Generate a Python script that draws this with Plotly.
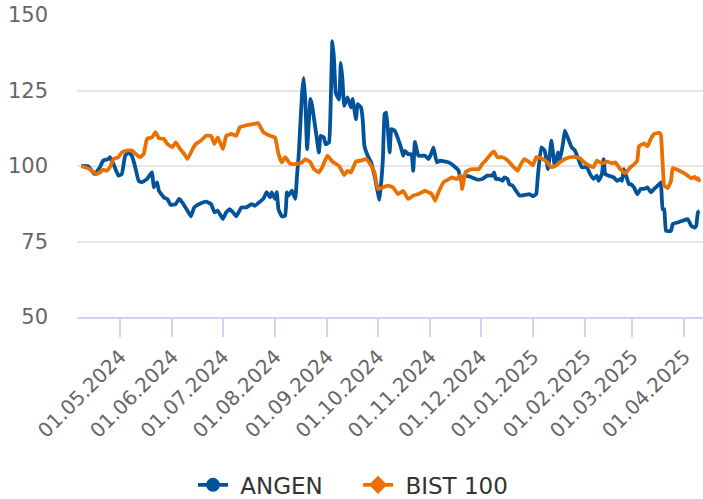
import plotly.graph_objects as go

angen_dates = [
    "2024-04-08", "2024-04-12", "2024-04-16", "2024-04-19", "2024-04-21", "2024-04-24", "2024-04-25",
    "2024-04-27", "2024-04-30", "2024-05-02", "2024-05-04", "2024-05-06", "2024-05-08", "2024-05-10",
    "2024-05-12", "2024-05-14", "2024-05-17", "2024-05-19", "2024-05-20", "2024-05-21", "2024-05-23",
    "2024-05-24", "2024-05-27", "2024-05-29", "2024-05-31", "2024-06-03", "2024-06-05", "2024-06-07",
    "2024-06-10", "2024-06-12", "2024-06-14", "2024-06-17", "2024-06-21", "2024-06-24", "2024-06-26",
    "2024-06-28", "2024-07-01", "2024-07-03", "2024-07-05", "2024-07-07", "2024-07-09", "2024-07-12",
    "2024-07-15", "2024-07-18", "2024-07-20", "2024-07-23", "2024-07-25", "2024-07-27", "2024-07-29",
    "2024-07-30", "2024-08-01", "2024-08-02", "2024-08-03", "2024-08-05", "2024-08-07", "2024-08-08",
    "2024-08-09", "2024-08-11", "2024-08-13", "2024-08-14", "2024-08-15", "2024-08-17", "2024-08-18",
    "2024-08-19", "2024-08-20", "2024-08-22", "2024-08-23", "2024-08-25", "2024-08-27", "2024-08-28",
    "2024-08-30", "2024-08-31", "2024-09-02", "2024-09-03", "2024-09-04", "2024-09-05", "2024-09-06",
    "2024-09-08", "2024-09-09", "2024-09-10", "2024-09-11", "2024-09-13", "2024-09-15", "2024-09-16",
    "2024-09-18", "2024-09-19", "2024-09-21", "2024-09-22", "2024-09-23", "2024-09-25", "2024-09-27",
    "2024-09-29", "2024-10-02", "2024-10-04", "2024-10-05", "2024-10-06", "2024-10-08", "2024-10-09",
    "2024-10-11", "2024-10-13", "2024-10-15", "2024-10-16", "2024-10-17", "2024-10-19", "2024-10-21",
    "2024-10-22", "2024-10-23", "2024-10-25", "2024-10-29", "2024-10-31", "2024-11-02", "2024-11-03",
    "2024-11-05", "2024-11-07", "2024-11-12", "2024-11-16", "2024-11-18", "2024-11-19", "2024-11-22",
    "2024-11-26", "2024-11-29", "2024-12-02", "2024-12-05", "2024-12-08", "2024-12-09", "2024-12-10",
    "2024-12-12", "2024-12-14", "2024-12-15", "2024-12-17", "2024-12-18", "2024-12-20", "2024-12-22",
    "2024-12-24", "2024-12-27", "2024-12-30", "2025-01-01", "2025-01-03", "2025-01-04", "2025-01-06",
    "2025-01-08", "2025-01-10", "2025-01-12", "2025-01-14", "2025-01-16", "2025-01-17", "2025-01-19",
    "2025-01-20", "2025-01-22", "2025-01-24", "2025-01-26", "2025-01-28", "2025-01-30", "2025-02-02",
    "2025-02-04", "2025-02-06", "2025-02-08", "2025-02-09", "2025-02-11", "2025-02-12", "2025-02-13",
    "2025-02-15", "2025-02-18", "2025-02-20", "2025-02-22", "2025-02-23", "2025-02-24", "2025-02-26",
    "2025-02-27", "2025-02-28", "2025-03-02", "2025-03-04", "2025-03-06", "2025-03-08", "2025-03-10",
    "2025-03-12", "2025-03-14", "2025-03-17", "2025-03-18", "2025-03-19", "2025-03-20", "2025-03-21",
    "2025-03-24", "2025-03-25", "2025-03-28", "2025-03-31", "2025-04-03", "2025-04-05", "2025-04-07",
    "2025-04-08", "2025-04-09", "2025-04-10",
]
angen_values = [
    100.0, 99.9, 97.3, 99.6, 101.8, 102.3, 102.9,
    100.7, 96.8, 97.3, 103.4, 104.5, 103.4, 99.6,
    95.1, 94.6, 95.7, 97.3, 97.9, 92.9, 94.6,
    91.8, 89.6, 89.1, 87.1, 87.4, 89.1, 87.9,
    85.2, 83.3, 86.3, 87.4, 88.2, 87.4, 84.7,
    85.2, 82.4, 84.7, 85.7, 84.7, 83.3, 86.3,
    86.3, 87.4, 86.8, 88.2, 89.1, 91.3, 89.6,
    91.3, 89.1, 91.3, 85.7, 83.3, 83.5, 91.3,
    90.2, 91.8, 89.1, 96.8, 103.4, 124.2, 129.2,
    120.9, 105.6, 122.2, 119.9, 112.2, 104.5, 110.0,
    109.4, 107.2, 107.8, 120.9, 141.3, 135.2, 124.2,
    122.0, 134.1, 128.5, 119.9, 122.7, 119.4, 122.2,
    115.5, 120.5, 119.4, 115.5, 106.7, 103.4, 101.2,
    96.8, 88.8, 102.3, 117.2, 117.7, 104.5, 112.2,
    111.7, 109.0, 105.6, 103.4, 105.0, 103.9, 103.9,
    98.4, 108.0, 103.4, 103.4, 102.3, 104.5, 106.2,
    101.2, 101.8, 101.2, 99.6, 98.4, 95.7, 96.8,
    96.2, 95.5, 95.7, 96.8, 96.8, 97.9, 95.7,
    95.7, 95.1, 96.2, 95.7, 94.0, 93.5, 91.8,
    90.2, 90.4, 90.7, 90.0, 90.7, 96.8, 106.2,
    105.1, 99.0, 108.4, 100.1, 104.5, 101.8, 107.8,
    111.7, 109.0, 106.2, 105.1, 102.3, 99.6, 99.6,
    97.3, 95.7, 96.8, 95.1, 97.3, 102.3, 97.3,
    96.8, 96.2, 95.1, 95.7, 95.1, 99.0, 95.7,
    94.0, 94.0, 92.9, 90.7, 92.4, 92.4, 92.9,
    91.3, 92.4, 94.0, 94.6, 85.7, 85.7, 78.5,
    78.5, 80.8, 81.3, 81.9, 82.4, 80.2, 79.6,
    80.2, 84.7, 85.0,
]

bist_dates = [
    "2024-04-08", "2024-04-12", "2024-04-15", "2024-04-17", "2024-04-19", "2024-04-21", "2024-04-23",
    "2024-04-25", "2024-04-27", "2024-04-30", "2024-05-02", "2024-05-05", "2024-05-08", "2024-05-11",
    "2024-05-13", "2024-05-15", "2024-05-17", "2024-05-20", "2024-05-22", "2024-05-24", "2024-05-27",
    "2024-05-29", "2024-06-01", "2024-06-03", "2024-06-05", "2024-06-08", "2024-06-10", "2024-06-13",
    "2024-06-15", "2024-06-18", "2024-06-21", "2024-06-24", "2024-06-26", "2024-06-28", "2024-07-01",
    "2024-07-03", "2024-07-06", "2024-07-09", "2024-07-11", "2024-07-15", "2024-07-19", "2024-07-22",
    "2024-07-25", "2024-07-29", "2024-08-01", "2024-08-03", "2024-08-05", "2024-08-07", "2024-08-10",
    "2024-08-14", "2024-08-17", "2024-08-19", "2024-08-22", "2024-08-24", "2024-08-27", "2024-08-29",
    "2024-09-01", "2024-09-04", "2024-09-08", "2024-09-11", "2024-09-13", "2024-09-15", "2024-09-18",
    "2024-09-21", "2024-09-24", "2024-09-27", "2024-09-29", "2024-10-01", "2024-10-04", "2024-10-07",
    "2024-10-10", "2024-10-13", "2024-10-16", "2024-10-19", "2024-10-22", "2024-10-25", "2024-10-29",
    "2024-10-31", "2024-11-02", "2024-11-04", "2024-11-06", "2024-11-09", "2024-11-12", "2024-11-14",
    "2024-11-17", "2024-11-19", "2024-11-20", "2024-11-22", "2024-11-25", "2024-11-30", "2024-12-02",
    "2024-12-04", "2024-12-07", "2024-12-09", "2024-12-11", "2024-12-14", "2024-12-17", "2024-12-20",
    "2024-12-23", "2024-12-25", "2024-12-27", "2024-12-30", "2025-01-01", "2025-01-03", "2025-01-06",
    "2025-01-09", "2025-01-12", "2025-01-15", "2025-01-17", "2025-01-20", "2025-01-23", "2025-01-26",
    "2025-01-29", "2025-02-01", "2025-02-04", "2025-02-06", "2025-02-08", "2025-02-11", "2025-02-14",
    "2025-02-17", "2025-02-19", "2025-02-21", "2025-02-23", "2025-02-25", "2025-02-27", "2025-02-28",
    "2025-03-02", "2025-03-04", "2025-03-05", "2025-03-08", "2025-03-10", "2025-03-12", "2025-03-14",
    "2025-03-17", "2025-03-18", "2025-03-19", "2025-03-20", "2025-03-22", "2025-03-24", "2025-03-25",
    "2025-03-28", "2025-03-31", "2025-04-03", "2025-04-05", "2025-04-07", "2025-04-08", "2025-04-09",
    "2025-04-10",
]
bist_values = [
    100.0, 99.2, 98.1, 97.3, 97.9, 98.8, 98.4,
    99.6, 102.3, 102.9, 104.5, 105.1, 105.1, 103.6,
    102.9, 104.0, 109.0, 109.5, 111.2, 109.2, 109.0,
    107.3, 106.2, 107.8, 106.2, 104.0, 102.3, 105.6,
    107.3, 108.4, 110.0, 110.0, 107.3, 109.5, 105.6,
    110.0, 110.6, 110.0, 112.8, 113.5, 113.9, 114.2,
    111.2, 110.0, 109.4, 104.0, 101.2, 102.9, 100.7,
    100.7, 101.2, 102.3, 101.2, 99.0, 97.9, 99.6,
    103.4, 101.5, 100.0, 97.0, 98.4, 97.9, 101.5,
    101.8, 102.3, 100.1, 97.9, 92.4, 92.9, 93.5,
    92.9, 90.7, 91.8, 89.1, 90.2, 90.7, 91.8,
    91.3, 90.7, 88.5, 91.3, 94.6, 95.6, 96.2,
    95.7, 97.0, 92.4, 97.9, 98.9, 99.0, 100.7,
    101.8, 103.9, 104.8, 102.9, 102.9, 101.9, 100.0,
    98.4, 100.7, 102.3, 101.2, 100.2, 102.9, 102.6,
    101.5, 99.6, 100.2, 101.2, 102.3, 102.9, 103.0,
    102.5, 101.0, 100.0, 99.6, 101.8, 100.9, 101.4,
    100.9, 101.2, 99.6, 98.4, 97.6, 99.0, 99.6,
    100.5, 101.8, 106.5, 107.5, 106.5, 109.0, 110.6,
    111.0, 110.3, 101.2, 93.5, 92.7, 95.0, 99.3,
    98.7, 97.9, 96.8, 95.9, 96.4, 95.7, 96.0,
    94.8,
]

series_names = ["ANGEN", "BIST 100"]
series_colors = ["#03539b", "#ea7002"]
legend_symbols = ["circle", "diamond"]
y_ticks = [50, 75, 100, 125, 150]

FONT = "DejaVu Sans, Verdana, sans-serif"

fig = go.Figure()
for dates, vals, name, color in [
    (angen_dates, angen_values, series_names[0], series_colors[0]),
    (bist_dates, bist_values, series_names[1], series_colors[1]),
]:
    fig.add_trace(go.Scatter(
        x=dates, y=vals, mode="lines", name=name, showlegend=False,
        line=dict(color=color, width=3.8, shape="spline", smoothing=0.3),
    ))

for name, color, sym, lg in zip(series_names, series_colors, legend_symbols, ["legend", "legend2"]):
    fig.add_trace(go.Scatter(
        x=[None], y=[None], mode="lines+markers", name=" " + name, legend=lg,
        line=dict(color=color, width=3.6),
        marker=dict(color=color, symbol=sym, size=14),
    ))

legend_common = dict(
    orientation="h", xanchor="left", y=-0.556, yanchor="middle",
    font=dict(family=FONT, size=23, color="#333333"),
    itemwidth=30, bgcolor="rgba(0,0,0,0)",
)

fig.update_layout(
    width=703, height=499,
    margin=dict(l=77, r=0, t=15, b=182, autoexpand=False),
    paper_bgcolor="white", plot_bgcolor="white",
    font=dict(family=FONT, color="#666666", size=21),
    showlegend=True,
    legend=dict(x=0.1853, **legend_common),
    legend2=dict(x=0.449, **legend_common),
)
fig.update_xaxes(
    type="date", automargin=False,
    range=["2024-04-05 10:00", "2025-04-12"],
    tick0="2024-05-01", dtick="M1", tickformat="%d.%m.%Y",
    tickangle=-45,
    showgrid=False, zeroline=False,
    showline=True, linecolor="#ccd6eb", linewidth=2,
    ticks="outside", ticklen=18, tickwidth=2, tickcolor="#ccd6eb",
    tickfont=dict(family=FONT, size=20, color="#666666"),
)
fig.update_yaxes(
    automargin=False,
    range=[50, 150], tickvals=y_ticks,
    showgrid=True, gridcolor="#e6e6e6", gridwidth=2,
    zeroline=False, showline=False,
    ticks="", ticklabelstandoff=28,
    tickfont=dict(family=FONT, size=21, color="#666666"),
)

fig.write_html(
    "out.html",
    config={"displayModeBar": False},
    post_script="document.body.style.margin='0';document.body.style.overflow='hidden';",
)
